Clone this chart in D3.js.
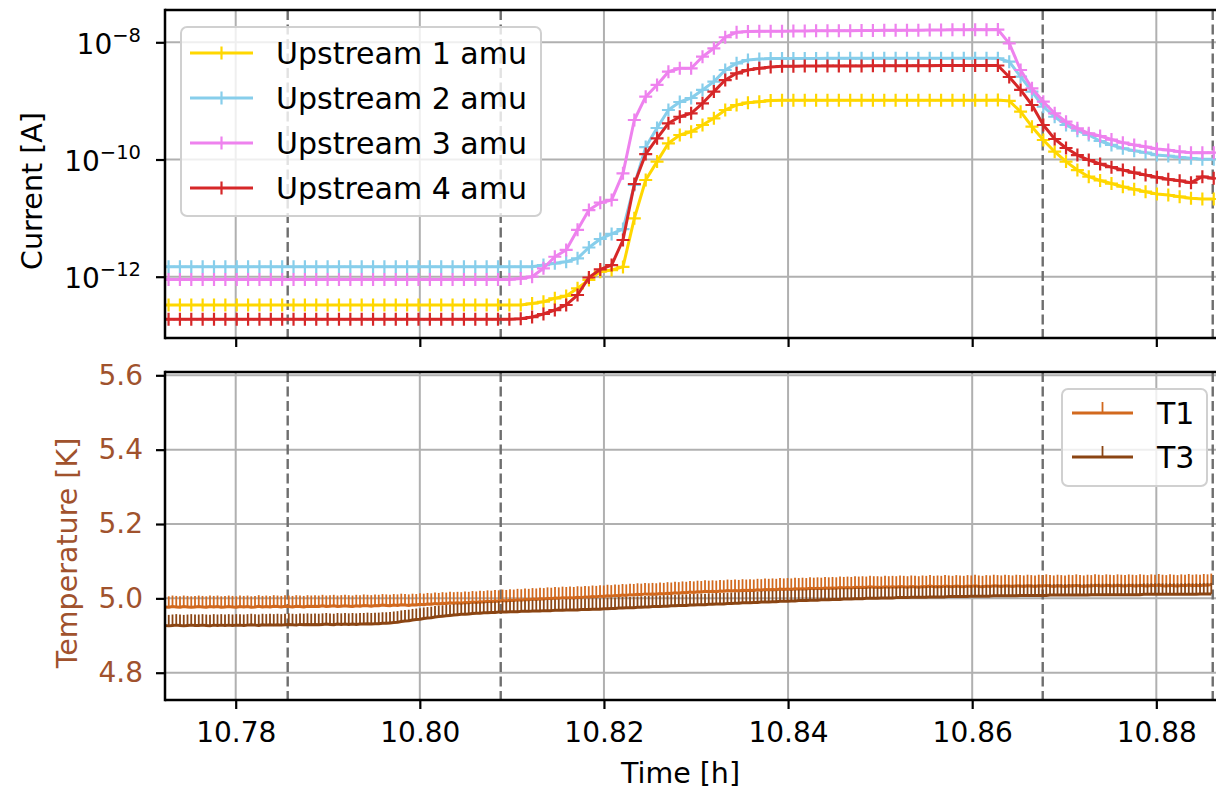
<!DOCTYPE html>
<html>
<head>
<meta charset="utf-8">
<script src="https://cdn.jsdelivr.net/npm/d3@7"></script>
<style>
  body { margin: 0; background: #fff; }
  svg { display: block; font-family: "DejaVu Sans", sans-serif; }
</style>
</head>
<body>
<svg id="fig" width="1216" height="792"></svg>
<script>
// ---------- data ----------
// Mass-spectrometer currents [A], one sample every curStep hours from curStart
const curStart = 10.771473;
const curStep = 0.0012340;
const upstream1 = [
  3.29e-13,3.29e-13,3.29e-13,3.29e-13,3.29e-13,3.29e-13,3.29e-13,3.29e-13,3.29e-13,3.29e-13,
  3.29e-13,3.29e-13,3.29e-13,3.29e-13,3.29e-13,3.29e-13,3.29e-13,3.29e-13,3.29e-13,3.29e-13,
  3.29e-13,3.29e-13,3.29e-13,3.29e-13,3.29e-13,3.29e-13,3.29e-13,3.29e-13,3.29e-13,3.29e-13,
  3.29e-13,3.29e-13,3.29e-13,3.49e-13,3.74e-13,4.28e-13,4.69e-13,6.34e-13,8.8e-13,1.22e-12,
  1.30e-12,1.47e-12,9.9e-12,4.47e-11,9.2e-11,1.89e-10,2.62e-10,2.98e-10,3.88e-10,5.05e-10,
  7.0e-10,8.51e-10,9.31e-10,9.7e-10,1.02e-9,1.03e-9,1.03e-9,1.03e-9,1.03e-9,1.03e-9,
  1.03e-9,1.03e-9,1.03e-9,1.03e-9,1.03e-9,1.03e-9,1.03e-9,1.03e-9,1.03e-9,1.03e-9,
  1.03e-9,1.03e-9,1.03e-9,1.03e-9,1.035e-9,1.0e-9,6.55e-10,3.63e-10,2.15e-10,1.36e-10,
  9.2e-11,6.6e-11,5.09e-11,4.38e-11,3.89e-11,3.43e-11,3.10e-11,2.82e-11,2.58e-11,2.48e-11,
  2.32e-11,2.18e-11,2.12e-11,2.12e-11
];
const upstream2 = [
  1.48e-12,1.48e-12,1.48e-12,1.48e-12,1.48e-12,1.48e-12,1.48e-12,1.48e-12,1.48e-12,1.48e-12,
  1.48e-12,1.48e-12,1.48e-12,1.48e-12,1.48e-12,1.48e-12,1.48e-12,1.48e-12,1.48e-12,1.48e-12,
  1.48e-12,1.48e-12,1.48e-12,1.48e-12,1.48e-12,1.48e-12,1.48e-12,1.48e-12,1.48e-12,1.48e-12,
  1.48e-12,1.48e-12,1.48e-12,1.48e-12,1.58e-12,1.69e-12,1.80e-12,2.06e-12,3.15e-12,4.4e-12,
  5.36e-12,6.5e-12,3.67e-11,1.63e-10,3.45e-10,7.0e-10,9.57e-10,1.12e-9,1.54e-9,2.13e-9,
  3.37e-9,4.38e-9,4.99e-9,5.19e-9,5.28e-9,5.30e-9,5.30e-9,5.31e-9,5.31e-9,5.32e-9,
  5.32e-9,5.32e-9,5.33e-9,5.33e-9,5.33e-9,5.33e-9,5.34e-9,5.34e-9,5.34e-9,5.34e-9,
  5.35e-9,5.35e-9,5.35e-9,5.35e-9,5.33e-9,4.67e-9,2.59e-9,1.44e-9,7.96e-10,5.37e-10,
  3.88e-10,3.10e-10,2.62e-10,2.07e-10,1.77e-10,1.55e-10,1.41e-10,1.31e-10,1.19e-10,1.15e-10,
  1.09e-10,1.05e-10,1.01e-10,1.01e-10
];
const upstream3 = [
  9.0e-13,9.0e-13,9.0e-13,9.0e-13,9.0e-13,9.0e-13,9.0e-13,9.0e-13,9.0e-13,9.0e-13,
  9.0e-13,9.0e-13,9.0e-13,9.0e-13,9.0e-13,9.0e-13,9.0e-13,9.0e-13,9.0e-13,9.0e-13,
  9.0e-13,9.0e-13,9.0e-13,9.0e-13,9.0e-13,9.0e-13,9.0e-13,9.0e-13,9.0e-13,9.0e-13,
  9.0e-13,9.0e-13,9.3e-13,1.0e-12,1.39e-12,2.19e-12,2.86e-12,6.3e-12,1.37e-11,1.83e-11,
  2.04e-11,5.8e-11,4.72e-10,1.18e-9,1.87e-9,3.15e-9,3.60e-9,3.60e-9,5.68e-9,7.9e-9,
  1.22e-8,1.48e-8,1.53e-8,1.54e-8,1.55e-8,1.55e-8,1.56e-8,1.56e-8,1.57e-8,1.57e-8,
  1.58e-8,1.58e-8,1.59e-8,1.59e-8,1.60e-8,1.60e-8,1.61e-8,1.61e-8,1.62e-8,1.62e-8,
  1.63e-8,1.63e-8,1.64e-8,1.64e-8,1.65e-8,9.6e-9,3.37e-9,1.64e-9,9.7e-10,6.14e-10,
  4.42e-10,3.41e-10,2.80e-10,2.52e-10,2.19e-10,1.94e-10,1.77e-10,1.65e-10,1.51e-10,1.45e-10,
  1.36e-10,1.31e-10,1.31e-10,1.31e-10
];
const upstream4 = [
  1.88e-13,1.88e-13,1.88e-13,1.88e-13,1.88e-13,1.88e-13,1.88e-13,1.88e-13,1.88e-13,1.88e-13,
  1.88e-13,1.88e-13,1.88e-13,1.88e-13,1.88e-13,1.88e-13,1.88e-13,1.88e-13,1.88e-13,1.88e-13,
  1.88e-13,1.88e-13,1.88e-13,1.88e-13,1.88e-13,1.88e-13,1.88e-13,1.88e-13,1.88e-13,1.88e-13,
  1.88e-13,1.88e-13,1.91e-13,2.05e-13,2.31e-13,2.70e-13,3.29e-13,4.87e-13,9.7e-13,1.33e-12,
  1.58e-12,4.23e-12,3.82e-11,1.24e-10,2.30e-10,4.15e-10,5.37e-10,6.14e-10,9.1e-10,1.44e-9,
  2.27e-9,2.96e-9,3.37e-9,3.60e-9,3.79e-9,3.90e-9,3.92e-9,3.94e-9,3.94e-9,3.95e-9,
  3.95e-9,3.96e-9,3.96e-9,3.97e-9,3.97e-9,3.98e-9,3.98e-9,3.99e-9,3.99e-9,4.0e-9,
  4.0e-9,4.01e-9,4.01e-9,4.02e-9,4.02e-9,2.56e-9,1.54e-9,8.51e-10,3.88e-10,2.24e-10,
  1.57e-10,1.19e-10,9.8e-11,8.4e-11,7.4e-11,6.6e-11,5.95e-11,5.44e-11,4.97e-11,4.59e-11,
  4.35e-11,4.02e-11,5.09e-11,4.78e-11
];
const currentNames = ["Upstream 1 amu", "Upstream 2 amu", "Upstream 3 amu", "Upstream 4 amu"];
const currentColors = ["#FFD700", "#87CEEB", "#EE82EE", "#d62728"];

// Cryostat temperatures [K], one sample every tempStep hours from tempStart
const tempStart = 10.772320;
const tempStep = 0.00040735;
const tempT1 = [
  4.977,4.976,4.978,4.977,4.976,4.978,4.977,4.976,4.977,4.978,
  4.977,4.976,4.978,4.977,4.978,4.976,4.977,4.978,4.977,4.976,
  4.978,4.977,4.978,4.976,4.977,4.979,4.977,4.978,4.977,4.979,
  4.978,4.977,4.979,4.978,4.977,4.979,4.978,4.977,4.979,4.978,
  4.979,4.978,4.980,4.978,4.979,4.980,4.978,4.979,4.980,4.979,
  4.978,4.980,4.979,4.981,4.980,4.979,4.981,4.980,4.982,4.981,
  4.980,4.982,4.981,4.983,4.982,4.981,4.983,4.982,4.984,4.983,
  4.985,4.984,4.986,4.985,4.987,4.986,4.988,4.987,4.988,4.987,
  4.989,4.988,4.990,4.989,4.991,4.990,4.992,4.991,4.993,4.992,
  4.994,4.993,4.995,4.994,4.996,4.995,4.997,4.996,4.998,4.997,
  4.999,4.998,5.000,4.999,5.001,5.000,5.002,5.001,5.002,5.001,
  5.003,5.002,5.004,5.003,5.005,5.004,5.006,5.005,5.007,5.006,
  5.008,5.007,5.009,5.008,5.010,5.009,5.011,5.010,5.012,5.011,
  5.012,5.011,5.013,5.012,5.014,5.013,5.015,5.014,5.016,5.015,
  5.017,5.016,5.018,5.017,5.019,5.018,5.019,5.018,5.020,5.019,
  5.021,5.020,5.021,5.020,5.022,5.021,5.022,5.021,5.023,5.022,
  5.024,5.023,5.024,5.023,5.025,5.024,5.025,5.024,5.026,5.025,
  5.026,5.025,5.027,5.026,5.027,5.026,5.028,5.027,5.028,5.027,
  5.029,5.028,5.029,5.028,5.030,5.029,5.030,5.029,5.031,5.030,
  5.030,5.029,5.031,5.030,5.031,5.030,5.032,5.031,5.030,5.032,
  5.031,5.030,5.032,5.031,5.033,5.031,5.032,5.031,5.033,5.032,
  5.031,5.033,5.032,5.031,5.033,5.032,5.034,5.032,5.031,5.033,
  5.032,5.034,5.033,5.032,5.034,5.033,5.032,5.034,5.033,5.032,
  5.034,5.033,5.032,5.034,5.033,5.035,5.033,5.032,5.034,5.033,
  5.032,5.034,5.033,5.035,5.033,5.032,5.034,5.033,5.035,5.034,
  5.033,5.035,5.034,5.033,5.035,5.034,5.033,5.035,5.034,5.033,
  5.035,5.034,5.033,5.035,5.034,5.036,5.034,5.033,5.035,5.034,
  5.033,5.035,5.034,5.036,5.034,5.035,5.034,5.036,5.035,5.037
];
const tempT3 = [
  4.927,4.926,4.927,4.928,4.927,4.926,4.927,4.928,4.927,4.927,
  4.928,4.927,4.926,4.928,4.927,4.928,4.927,4.928,4.927,4.928,
  4.928,4.927,4.928,4.929,4.928,4.927,4.929,4.928,4.929,4.928,
  4.929,4.928,4.929,4.930,4.929,4.928,4.930,4.929,4.930,4.929,
  4.930,4.929,4.930,4.931,4.930,4.929,4.931,4.930,4.931,4.930,
  4.931,4.930,4.931,4.931,4.932,4.931,4.932,4.932,4.933,4.933,
  4.934,4.935,4.936,4.938,4.939,4.940,4.942,4.943,4.944,4.946,
  4.947,4.948,4.950,4.951,4.952,4.953,4.954,4.955,4.956,4.957,
  4.957,4.958,4.959,4.960,4.960,4.961,4.961,4.962,4.962,4.963,
  4.963,4.963,4.964,4.964,4.964,4.965,4.965,4.965,4.966,4.966,
  4.966,4.967,4.967,4.967,4.968,4.968,4.968,4.969,4.969,4.969,
  4.969,4.970,4.970,4.970,4.971,4.971,4.971,4.972,4.972,4.973,
  4.973,4.974,4.974,4.975,4.975,4.975,4.976,4.976,4.977,4.977,
  4.978,4.978,4.978,4.979,4.979,4.980,4.980,4.981,4.981,4.981,
  4.982,4.982,4.983,4.983,4.983,4.984,4.984,4.985,4.985,4.985,
  4.986,4.986,4.987,4.987,4.988,4.988,4.988,4.989,4.989,4.990,
  4.990,4.990,4.991,4.991,4.992,4.992,4.992,4.993,4.993,4.994,
  4.994,4.994,4.995,4.995,4.995,4.996,4.996,4.996,4.997,4.997,
  4.997,4.998,4.998,4.998,4.999,4.999,4.999,5.000,5.000,5.000,
  5.000,5.001,5.001,5.001,5.001,5.002,5.002,5.002,5.002,5.003,
  5.003,5.003,5.003,5.003,5.004,5.004,5.004,5.004,5.004,5.005,
  5.005,5.005,5.005,5.005,5.005,5.006,5.006,5.006,5.006,5.006,
  5.006,5.007,5.007,5.007,5.007,5.007,5.007,5.007,5.008,5.008,
  5.008,5.008,5.008,5.008,5.008,5.008,5.009,5.009,5.009,5.009,
  5.009,5.009,5.009,5.009,5.009,5.009,5.009,5.010,5.010,5.010,
  5.010,5.010,5.010,5.010,5.010,5.010,5.010,5.010,5.010,5.010,
  5.010,5.011,5.011,5.011,5.011,5.011,5.011,5.011,5.011,5.011,
  5.011,5.011,5.011,5.011,5.011,5.011,5.012,5.012,5.012,5.012
];
const tempNames = ["T1", "T3"];
const tempColors = ["#D2691E", "#8B4513"];

// Event markers (dashed verticals) [h]
const eventTimes = [10.785648, 10.808786, 10.867660, 10.886128];

// Axis ticks
const timeTicks = [10.78, 10.80, 10.82, 10.84, 10.86, 10.88];
const currentTicks = [1e-12, 1e-10, 1e-8];
const tempTicks = [4.8, 5.0, 5.2, 5.4, 5.6];

// ---------- layout ----------
const left = 165, right = 1218;
const top1 = 10, bot1 = 338;
const top2 = 372, bot2 = 700;
const tempLabelColor = "#A0522D";
const fontFamily = '"DejaVu Sans", sans-serif';
const tickFont = 28;
const labelFont = 28.5;

const svg = d3.select("#fig");

const x = d3.scaleLinear().domain([10.77232, 10.88670]).range([left, right]);
const yCur = d3.scaleLog().domain([Math.pow(10, -13.046), Math.pow(10, -7.4488)]).range([bot1, top1]);
const yTemp = d3.scaleLinear().domain([4.7266, 5.6089]).range([bot2, top2]);

const curTimes = d3.range(upstream1.length).map(i => curStart + i * curStep);
const tempTimes = d3.range(tempT1.length).map(i => tempStart + i * tempStep);

const defs = svg.append("defs");
defs.append("clipPath").attr("id", "clipTop").append("rect")
  .attr("x", left).attr("y", top1).attr("width", right - left).attr("height", bot1 - top1);
defs.append("clipPath").attr("id", "clipBot").append("rect")
  .attr("x", left).attr("y", top2).attr("width", right - left).attr("height", bot2 - top2);

function grid(g, yScale, yTicks, y0, y1) {
  g.append("g").selectAll("line").data(timeTicks).join("line")
    .attr("x1", d => x(d)).attr("x2", d => x(d)).attr("y1", y0).attr("y2", y1)
    .attr("stroke", "#b0b0b0").attr("stroke-width", 2);
  g.append("g").selectAll("line").data(yTicks).join("line")
    .attr("x1", left).attr("x2", right).attr("y1", d => yScale(d)).attr("y2", d => yScale(d))
    .attr("stroke", "#b0b0b0").attr("stroke-width", 2);
}

function events(g, y0, y1) {
  g.append("g").selectAll("line").data(eventTimes).join("line")
    .attr("x1", d => x(d)).attr("x2", d => x(d)).attr("y1", y0).attr("y2", y1)
    .attr("stroke", "#6e6e6e").attr("stroke-width", 2.4).attr("stroke-dasharray", "10,4.5");
}

function spines(g, y0, y1) {
  g.append("line").attr("x1", left).attr("x2", left).attr("y1", y0 - 1.2).attr("y2", y1 + 1.2)
    .attr("stroke", "#000").attr("stroke-width", 2.5);
  g.append("line").attr("x1", left).attr("x2", 1216).attr("y1", y0).attr("y2", y0)
    .attr("stroke", "#000").attr("stroke-width", 2.5);
  g.append("line").attr("x1", left).attr("x2", 1216).attr("y1", y1).attr("y2", y1)
    .attr("stroke", "#000").attr("stroke-width", 2.5);
}

function styleAxis(g, color) {
  g.attr("font-family", fontFamily);
  g.select(".domain").remove();
  g.selectAll(".tick line").attr("stroke", "#000").attr("stroke-width", 2.2);
  g.selectAll(".tick text").attr("font-size", tickFont).attr("fill", color)
    .attr("font-family", fontFamily);
}

// ---------- top panel: currents ----------
const gTop = svg.append("g");
grid(gTop, yCur, currentTicks, top1, bot1);
events(gTop, top1, bot1);

const curData = [upstream1, upstream2, upstream3, upstream4];
const lineCur = d3.line().x((d, i) => x(curTimes[i])).y(d => yCur(d));
const plotTop = gTop.append("g").attr("clip-path", "url(#clipTop)");
curData.forEach((series, k) => {
  const gs = plotTop.append("g");
  gs.append("path").datum(series).attr("d", lineCur)
    .attr("fill", "none").attr("stroke", currentColors[k]).attr("stroke-width", 3)
    .attr("stroke-linejoin", "round");
  gs.selectAll("path.m").data(series).join("path").attr("class", "m")
    .attr("d", "M-6.5,0H6.5M0,-6.5V6.5")
    .attr("transform", (d, i) => `translate(${x(curTimes[i])},${yCur(d)})`)
    .attr("stroke", currentColors[k]).attr("stroke-width", 2.2).attr("fill", "none");
});

const axTopX = gTop.append("g").attr("transform", `translate(0,${bot1})`)
  .call(d3.axisBottom(x).tickValues(timeTicks).tickSize(9).tickFormat(""));
styleAxis(axTopX, "#000");

const axTopY = gTop.append("g").attr("transform", `translate(${left},0)`)
  .call(d3.axisLeft(yCur).tickValues(currentTicks).tickSize(9).tickFormat(""));
styleAxis(axTopY, "#000");
axTopY.selectAll(".tick").each(function (d) {
  const exp = Math.round(Math.log10(d));
  const t = d3.select(this).append("text")
    .attr("x", -24).attr("y", 11).attr("text-anchor", "end")
    .attr("font-family", fontFamily).attr("font-size", tickFont).attr("fill", "#000");
  t.append("tspan").text("10");
  t.append("tspan").attr("dy", -12).attr("font-size", 19.5).text("\u2212" + Math.abs(exp));
});
spines(gTop, top1, bot1);

svg.append("text")
  .attr("transform", `translate(42,${(top1 + bot1) / 2 + 17}) rotate(-90)`)
  .attr("text-anchor", "middle").attr("font-size", labelFont).attr("fill", "#000")
  .text("Current [A]");

// legend (currents)
const legTop = svg.append("g").attr("transform", "translate(181,27)");
legTop.append("rect").attr("width", 360).attr("height", 189).attr("rx", 6)
  .attr("fill", "#fff").attr("fill-opacity", 0.8).attr("stroke", "#d0d0d0").attr("stroke-width", 2);
currentNames.forEach((name, k) => {
  const yy = 26 + k * 45;
  legTop.append("line").attr("x1", 9).attr("x2", 72).attr("y1", yy).attr("y2", yy)
    .attr("stroke", currentColors[k]).attr("stroke-width", 3);
  legTop.append("path").attr("d", "M-6.5,0H6.5M0,-6.5V6.5")
    .attr("transform", `translate(40.5,${yy})`)
    .attr("stroke", currentColors[k]).attr("stroke-width", 2.2);
  legTop.append("text").attr("x", 95).attr("y", yy + 10.5)
    .attr("font-size", 30).attr("fill", "#000").text(name);
});

// ---------- bottom panel: temperatures ----------
const gBot = svg.append("g");
grid(gBot, yTemp, tempTicks, top2, bot2);
events(gBot, top2, bot2);

const tempData = [tempT1, tempT3];
const lineTemp = d3.line().x((d, i) => x(tempTimes[i])).y(d => yTemp(d));
const plotBot = gBot.append("g").attr("clip-path", "url(#clipBot)");
tempData.forEach((series, k) => {
  const gs = plotBot.append("g");
  gs.append("path").datum(series).attr("d", lineTemp)
    .attr("fill", "none").attr("stroke", tempColors[k]).attr("stroke-width", 3)
    .attr("stroke-linejoin", "round");
  gs.selectAll("path.m").data(series).join("path").attr("class", "m")
    .attr("d", "M0,0V-11")
    .attr("transform", (d, i) => `translate(${x(tempTimes[i])},${yTemp(d)})`)
    .attr("stroke", tempColors[k]).attr("stroke-width", 1.8).attr("fill", "none");
});

const axBotX = gBot.append("g").attr("transform", `translate(0,${bot2})`)
  .call(d3.axisBottom(x).tickValues(timeTicks).tickSize(9).tickPadding(13).tickFormat(d3.format(".2f")));
styleAxis(axBotX, "#000");

const axBotY = gBot.append("g").attr("transform", `translate(${left},0)`)
  .call(d3.axisLeft(yTemp).tickValues(tempTicks).tickSize(9).tickPadding(13).tickFormat(d3.format(".1f")));
styleAxis(axBotY, tempLabelColor);
spines(gBot, top2, bot2);

svg.append("text")
  .attr("transform", `translate(77,${(top2 + bot2) / 2 + 17}) rotate(-90)`)
  .attr("text-anchor", "middle").attr("font-size", labelFont).attr("fill", tempLabelColor)
  .text("Temperature [K]");

svg.append("text").attr("x", (left + 1216) / 2 - 10).attr("y", 783)
  .attr("text-anchor", "middle").attr("font-size", labelFont).attr("fill", "#000")
  .text("Time [h]");

// legend (temperatures)
const legBot = svg.append("g").attr("transform", "translate(1062,389)");
legBot.append("rect").attr("width", 145).attr("height", 97).attr("rx", 6)
  .attr("fill", "#fff").attr("fill-opacity", 0.8).attr("stroke", "#d0d0d0").attr("stroke-width", 2);
tempNames.forEach((name, k) => {
  const yy = 24 + k * 44;
  legBot.append("line").attr("x1", 10).attr("x2", 71).attr("y1", yy).attr("y2", yy)
    .attr("stroke", tempColors[k]).attr("stroke-width", 3);
  legBot.append("path").attr("d", "M0,0V-11")
    .attr("transform", `translate(40.5,${yy})`)
    .attr("stroke", tempColors[k]).attr("stroke-width", 1.8);
  legBot.append("text").attr("x", 95).attr("y", yy + 10.5)
    .attr("font-size", 30).attr("fill", "#000").text(name);
});
</script>
</body>
</html>
